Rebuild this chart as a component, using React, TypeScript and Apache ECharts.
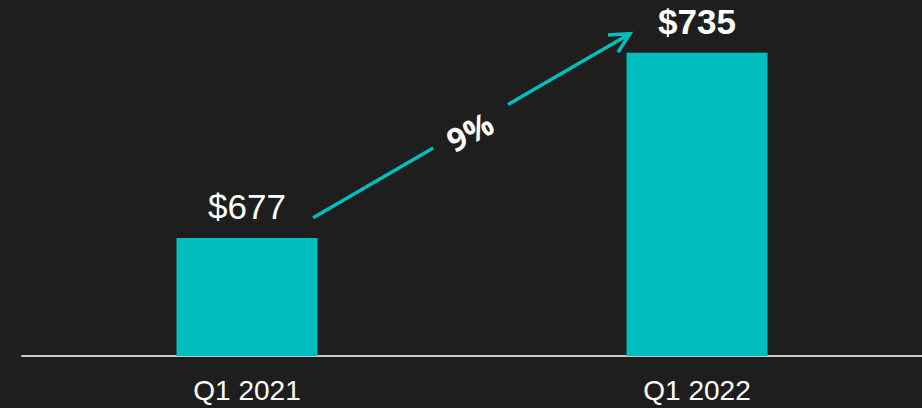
import React, { useEffect, useRef } from 'react';
import * as echarts from 'echarts';

const categories = ['Q1 2021', 'Q1 2022'];
const revenue = [677, 735];
const valueLabels = ['$677', '$735'];
const boldLabels = [false, true];
const growthLabel = '9%';
// growth arrow, in data units: x on a hidden index scale (0 = first bar, 1 = second), y on the value axis
const arrowStart = [0.147, 683.3];
const arrowEnd = [0.851, 741];
const arrowGap = [0.379, 0.615];
const yMin = 640;
const yMax = 750;

const TEAL = '#00BEBE';
const BG = '#1E1E1E';
const FONT = '"Liberation Sans", Arial, sans-serif';

export default function App() {
  const ref = useRef<HTMLDivElement>(null);
  useEffect(() => {
    document.body.style.margin = '0';
    const chart = echarts.init(ref.current!, null, { renderer: 'svg' });
    chart.setOption({
      animation: false,
      backgroundColor: BG,
      grid: { left: 22, right: 0, top: 5, bottom: 52 },
      xAxis: [
        {
          type: 'category',
          data: categories,
          axisLine: { lineStyle: { color: '#C8C8C8', width: 2 } },
          axisTick: { show: false },
          axisLabel: { color: '#FFFFFF', fontSize: 28, fontFamily: FONT, margin: 20 },
        },
        { type: 'value', min: -0.5, max: 1.5, show: false, splitLine: { show: false } },
      ],
      yAxis: { type: 'value', min: yMin, max: yMax, show: false, splitLine: { show: false } },
      series: [
        {
          type: 'bar',
          xAxisIndex: 0,
          barWidth: 141,
          itemStyle: { color: TEAL },
          data: revenue.map((v, i) => ({
            value: v,
            label: {
              show: true,
              position: 'top',
              distance: 14,
              formatter: valueLabels[i],
              color: '#FFFFFF',
              fontSize: 35,
              fontFamily: FONT,
              fontWeight: boldLabels[i] ? 'bold' : 'normal',
            },
          })),
        },
      ],
    });

    const px = (p: number[]) => [
      chart.convertToPixel({ xAxisIndex: 1 }, p[0]) as number,
      chart.convertToPixel({ yAxisIndex: 0 }, p[1]) as number,
    ];
    const s = px(arrowStart);
    const e = px(arrowEnd);
    const lerp = (t: number) => [s[0] + (e[0] - s[0]) * t, s[1] + (e[1] - s[1]) * t];
    const g1 = lerp(arrowGap[0]);
    const g2 = lerp(arrowGap[1]);
    const mid = lerp((arrowGap[0] + arrowGap[1]) / 2);
    const back = Math.atan2(s[1] - e[1], s[0] - e[0]);
    const spread = (27 * Math.PI) / 180;
    const armLen = 22;
    const arm = (a: number) => [e[0] + armLen * Math.cos(a), e[1] + armLen * Math.sin(a)];
    const textAngle = Math.atan2(-(e[1] - s[1]), e[0] - s[0]) - (3 * Math.PI) / 180;
    const lineStyle = { stroke: TEAL, lineWidth: 3.5, lineCap: 'butt' };

    chart.setOption({
      graphic: [
        { type: 'line', shape: { x1: s[0], y1: s[1], x2: g1[0], y2: g1[1] }, style: lineStyle },
        { type: 'line', shape: { x1: g2[0], y1: g2[1], x2: e[0], y2: e[1] }, style: lineStyle },
        {
          type: 'polyline',
          shape: { points: [arm(back + spread), e, arm(back - spread)] },
          style: { ...lineStyle, fill: null, lineJoin: 'miter' },
        },
        {
          type: 'text',
          x: mid[0] - 1,
          y: mid[1] + 5,
          rotation: textAngle,
          style: {
            text: growthLabel,
            x: 0,
            y: 0,
            fill: '#FFFFFF',
            fontSize: 32,
            fontWeight: 'bold',
            fontFamily: '"Open Sans", sans-serif',
            align: 'center',
            verticalAlign: 'middle',
            textAlign: 'center',
            textVerticalAlign: 'middle',
          },
        },
      ],
    });
    return () => chart.dispose();
  }, []);
  return <div ref={ref} style={{ position: 'fixed', left: 0, top: 0, width: 922, height: 408 }} />;
}
